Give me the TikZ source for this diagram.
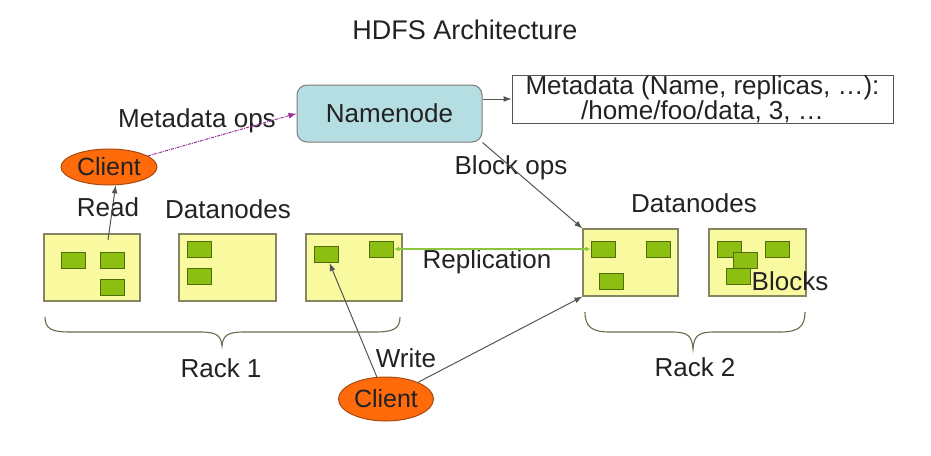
\documentclass[tikz,border=0pt]{standalone}
\usepackage{fontspec}
\setmainfont{Liberation Sans}
\usetikzlibrary{arrows.meta,shapes.geometric,calc}
\definecolor{dnfill}{HTML}{F9F9A0}
\definecolor{dnedge}{HTML}{85855F}
\definecolor{blkfill}{HTML}{8DBE12}
\definecolor{blkedge}{HTML}{4F6E08}
\definecolor{clfill}{HTML}{FF6A0A}
\definecolor{cledge}{HTML}{A84A10}
\definecolor{nnfill}{HTML}{B5DEE2}
\definecolor{nnedge}{HTML}{7A7A7A}
\definecolor{opsc}{HTML}{9B2C9B}
\definecolor{replc}{HTML}{8CC63F}
\definecolor{txt}{HTML}{222222}
\definecolor{linec}{HTML}{555555}
\begin{document}
\begin{tikzpicture}[x=1pt,y=-1pt,
  every node/.style={text=txt},
  lbl/.style={font=\fontsize{26}{30}\selectfont, inner sep=0pt},
  datanode/.style={draw=dnedge, fill=dnfill, line width=1.2pt, minimum height=67pt, inner sep=0pt},
  blk/.style={draw=blkedge, fill=blkfill, line width=1pt, minimum width=24pt, minimum height=16pt, inner sep=0pt},
  client/.style={ellipse, draw=cledge, fill=clfill, line width=1pt, inner sep=0pt, font=\fontsize{25}{28}\selectfont},
  conn/.style={draw=linec, line width=1pt, -{Latex[length=8pt,width=6pt]}},
  bracepath/.style={draw=dnedge!80!black, line width=1.1pt}
]
\useasboundingbox (0,0) rectangle (931,455);

% title
\node[lbl, font=\fontsize{27}{30}\selectfont] (title) at (465,30) {HDFS Architecture};

% namenode and metadata
\node[draw=nnedge, fill=nnfill, rounded corners=10pt, line width=1pt, minimum width=185pt, minimum height=57pt, font=\fontsize{26}{30}\selectfont] (nn) at (389.5,113.5) {Namenode};
\node[draw=linec, fill=white, line width=1pt, minimum width=381pt, minimum height=48pt, inner sep=0pt, align=center, font=\fontsize{26}{25}\selectfont] (meta) at (702.5,99) {Metadata (Name, replicas, …):\\/home/foo/data, 3, …};

% clients
\node[client, minimum width=96pt, minimum height=36pt] (c1) at (109,167) {Client};
\node[client, minimum width=95pt, minimum height=44pt] (c2) at (386,399) {Client};

% datanodes rack 1
\node[datanode, minimum width=96pt] (dn1) at (92,267.5) {};
\node[datanode, minimum width=97pt] (dn2) at (227.5,267.5) {};
\node[datanode, minimum width=96pt] (dn3) at (354,267.5) {};
% datanodes rack 2
\node[datanode, minimum width=95pt] (dn4) at (630.5,262.5) {};
\node[datanode, minimum width=97pt] (dn5) at (757.5,262.5) {};

% blocks
\node[blk] (b11) at (73,260) {};
\node[blk] (b12) at (112,260) {};
\node[blk] (b13) at (112,287.5) {};
\node[blk] (b21) at (199.5,249) {};
\node[blk] (b22) at (199.5,276) {};
\node[blk] (b31) at (326,254.5) {};
\node[blk] (b32) at (381.5,249) {};
\node[blk] (b41) at (603,249) {};
\node[blk] (b42) at (658,249) {};
\node[blk] (b43) at (611,281.5) {};
\node[blk] (b51) at (729.5,249) {};
\node[blk] (b52) at (777,249) {};
\node[blk] (b53) at (745.5,260) {};
\node[blk] (b54) at (738,276) {};

% labels
\node[lbl] (lmeta) at (197,121) {Metadata ops};
\node[lbl] (lread) at (108,207) {Read};
\node[lbl] (ldn1) at (228,209) {Datanodes};
\node[lbl] (lblock) at (511,168) {Block ops};
\node[lbl] (ldn2) at (694,203) {Datanodes};
\node[lbl] (lrepl) at (487,262) {Replication};
\node[lbl] (lblocks) at (790,281) {Blocks};
\node[lbl] (lrack1) at (221,368) {Rack 1};
\node[lbl] (lrack2) at (695,367) {Rack 2};
\node[lbl] (lwrite) at (406,358) {Write};

% connectors
\draw[conn] (nn.east |- meta.west) -- (meta.west);
\draw[draw=opsc, line width=1pt, densely dash dot, -{Latex[length=8pt,width=6pt]}] (c1) -- (nn.west);
\coordinate (readstart) at (108,240);
\draw[conn] (readstart) -- (c1.-70);
\draw[conn] (nn.south east) -- (dn4.north west);
\draw[draw=replc, line width=1.4pt, {Latex[length=5pt,width=5pt]}-{Latex[length=5pt,width=5pt]}] (b32.east) -- (b41.west);
\draw[conn] (c2) -- (b31);
\draw[conn] (c2) -- (dn4.south west);

% braces
\draw[bracepath] (45,317) .. controls (45,329) and (52,332) .. (70,332) -- (200,332) .. controls (216,332) and (221,335) .. (222,346) .. controls (223,335) and (228,332) .. (244,332) -- (375,332) .. controls (393,332) and (400,329) .. (400,317);
\draw[bracepath] (585,312) .. controls (585,327) and (592,332) .. (610,332) -- (672,332) .. controls (688,332) and (692,336) .. (693,349) .. controls (694,336) and (698,332) .. (714,332) -- (780,332) .. controls (798,332) and (805,327) .. (805,312);
\end{tikzpicture}
\end{document}
